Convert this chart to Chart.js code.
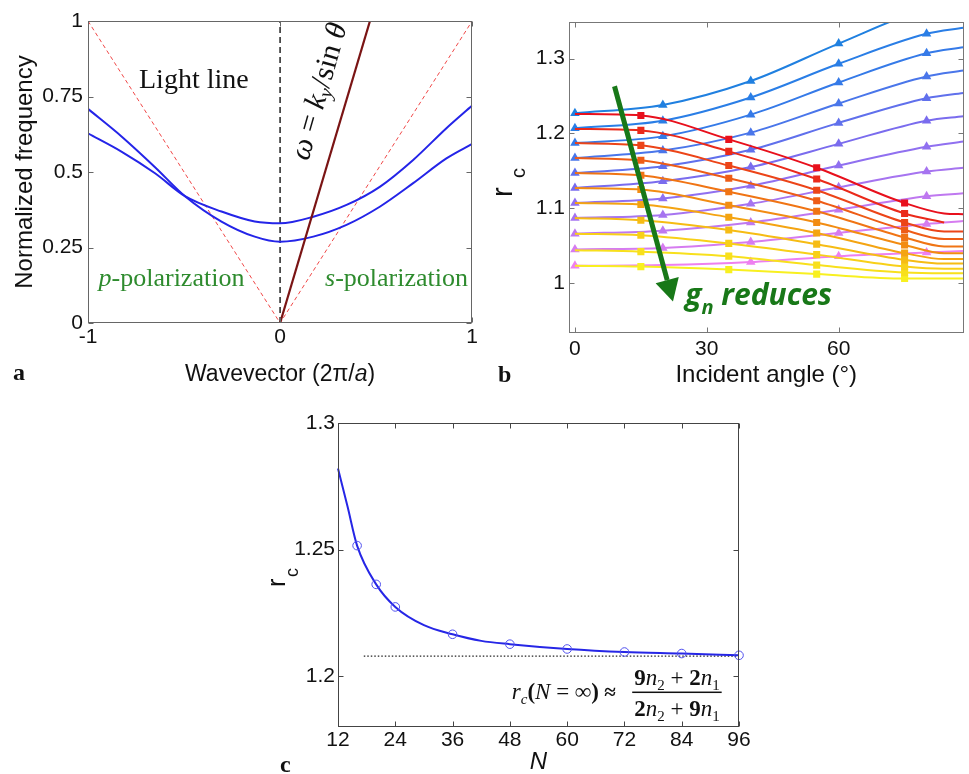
<!DOCTYPE html>
<html>
<head>
<meta charset="utf-8">
<script src="https://cdn.jsdelivr.net/npm/chart.js@4.4.1/dist/chart.umd.min.js"></script>
<style>
  body { margin: 0; background: #fff; }
  #page { position: relative; width: 969px; height: 774px; overflow: hidden; background: #fff; }
  canvas { position: absolute; }
</style>
</head>
<body>
<div id="page">
  <canvas id="chart-a" width="480" height="400" style="left:0;top:0"></canvas>
  <canvas id="chart-b" width="489" height="400" style="left:480px;top:0"></canvas>
  <canvas id="chart-c" width="520" height="374" style="left:240px;top:400px"></canvas>
</div>
<script>
const sans = "'Liberation Sans', Arial, sans-serif";
const serif = "'Liberation Serif', 'Times New Roman', serif";

// panel a - band diagram
const waveK = [-1, -0.824, -0.651, -0.495, -0.305, -0.132, 0, 0.173, 0.346, 0.519, 0.693, 0.866, 1];
const bandUpper = [0.628, 0.567, 0.496, 0.42, 0.369, 0.336, 0.33, 0.352, 0.391, 0.451, 0.54, 0.645, 0.72];
const bandLower = [0.709, 0.617, 0.516, 0.42, 0.336, 0.286, 0.269, 0.286, 0.325, 0.385, 0.463, 0.545, 0.593];
const lightK = [-1, 0, 1];
const lightW = [1, 0, 1];
const incidentK = [0, 0.468];
const incidentW = [0, 1];
const gammaK = [0, 0];
const gammaW = [0, 1];
const aXTicks = [-1, 0, 1];
const aXLabels = ['-1', '0', '1'];
const aYTicks = [0, 0.25, 0.5, 0.75, 1];
const aYLabels = ['0', '0.25', '0.5', '0.75', '1'];

// panel b - r_c against incident angle
const triAngles = [0, 20, 40, 60, 80, 88.4];
const triRc = [
  [1.227, 1.238, 1.270, 1.320, 1.366, 1.372],
  [1.207, 1.217, 1.248, 1.293, 1.333, 1.341],
  [1.187, 1.196, 1.225, 1.268, 1.307, 1.315],
  [1.167, 1.177, 1.201, 1.240, 1.276, 1.284],
  [1.147, 1.156, 1.178, 1.214, 1.247, 1.254],
  [1.127, 1.136, 1.155, 1.186, 1.217, 1.223],
  [1.107, 1.113, 1.130, 1.157, 1.182, 1.189],
  [1.087, 1.091, 1.106, 1.128, 1.149, 1.154],
  [1.066, 1.070, 1.081, 1.098, 1.116, 1.120],
  [1.045, 1.047, 1.055, 1.067, 1.079, 1.083],
  [1.023, 1.024, 1.028, 1.036, 1.041, 1.043]
];
const sqAngles = [0, 15, 35, 55, 75, 84, 88.4];
const sqRc = [
  [1.226, 1.224, 1.192, 1.154, 1.107, 1.093, 1.092],
  [1.206, 1.204, 1.176, 1.139, 1.093, 1.081, null],
  [1.187, 1.184, 1.157, 1.124, 1.081, 1.069, 1.069],
  [1.167, 1.164, 1.140, 1.110, 1.071, 1.059, 1.059],
  [1.147, 1.144, 1.122, 1.096, 1.061, 1.049, 1.049],
  [1.127, 1.125, 1.104, 1.081, 1.051, 1.040, 1.040],
  [1.107, 1.105, 1.088, 1.067, 1.040, 1.032, 1.032],
  [1.087, 1.084, 1.071, 1.052, 1.031, 1.026, 1.026],
  [1.066, 1.064, 1.053, 1.038, 1.022, 1.019, 1.019],
  [1.044, 1.042, 1.036, 1.024, 1.014, 1.013, 1.013],
  [1.023, 1.022, 1.018, 1.012, 1.006, 1.006, 1.006]
];
const bXTicks = [0, 30, 60];
const bXLabels = ['0', '30', '60'];
const bYTicks = [1, 1.1, 1.2, 1.3];
const bYLabels = ['1', '1.1', '1.2', '1.3'];

// panel c - r_c against N
const cellN = [12, 14, 16, 20, 24, 30, 36, 42, 48, 60, 72, 84, 96];
const rcN = [1.282, 1.267, 1.2516, 1.2363, 1.2274, 1.2202, 1.2166, 1.214, 1.2127, 1.2108, 1.2096, 1.209, 1.2083];
const markedN = [16, 20, 24, 36, 48, 60, 72, 84, 96];
const limitN = [17.4, 96];
const limitRc = [1.208, 1.208];
const cXTicks = [12, 24, 36, 48, 60, 72, 84, 96];
const cXLabels = ['12', '24', '36', '48', '60', '72', '84', '96'];
const cYTicks = [1.2, 1.25, 1.3];
const cYLabels = ['1.2', '1.25', '1.3'];

const triColors = ['#2080e0', '#2a7ee6', '#357ae8', '#4a76ea', '#6070ec', '#7a6cee', '#9070f0', '#a674f0', '#bf78f0', '#d67cf0', '#ee80f0'];
const sqColors = ['#e8101c', '#ea2a1a', '#ec4418', '#ee5c16', '#f07414', '#f28c12', '#f4a412', '#f6bc14', '#f8d018', '#f8e01c', '#f8f020'];

const xy = (xs, ys) => xs.map((x, i) => ({ x: x, y: ys[i] }));

function axis(min, max, ticks, labels, size, pad, extra) {
  return Object.assign({
    type: 'linear', min: min, max: max,
    grid: { display: false, drawTicks: false },
    border: { display: false },
    afterBuildTicks: s => { s.ticks = ticks.map(v => ({ value: v })); },
    afterFit: s => { if (s.isHorizontal()) s.height = size; else s.width = size; },
    ticks: { autoSkip: false, maxRotation: 0, padding: pad, color: '#111',
      font: { family: sans, size: 21 }, callback: (v, i) => labels[i] }
  }, extra || {});
}

// box with inward ticks, matlab style
function frame(color) {
  return {
    id: 'frame',
    afterDatasetsDraw(chart) {
      const { ctx, chartArea: a, scales: { x, y } } = chart;
      const l = Math.round(a.left) + 0.5, r = Math.round(a.right) - 0.5;
      const t = Math.round(a.top) + 0.5, b = Math.round(a.bottom) - 0.5;
      ctx.save();
      ctx.strokeStyle = color;
      ctx.lineWidth = 1;
      ctx.strokeRect(l, t, r - l, b - t);
      ctx.beginPath();
      x.ticks.forEach(tk => {
        const p = Math.round(x.getPixelForValue(tk.value)) + 0.5;
        ctx.moveTo(p, b); ctx.lineTo(p, b - 5);
        ctx.moveTo(p, t); ctx.lineTo(p, t + 5);
      });
      y.ticks.forEach(tk => {
        const p = Math.round(y.getPixelForValue(tk.value)) + 0.5;
        ctx.moveTo(l, p); ctx.lineTo(l + 5, p);
        ctx.moveTo(r, p); ctx.lineTo(r - 5, p);
      });
      ctx.stroke();
      ctx.restore();
    }
  };
}

function drawPieces(ctx, pieces, x, y, align) {
  let w = 0;
  pieces.forEach(p => { ctx.font = p[1]; w += ctx.measureText(p[0]).width; });
  let cx = align === 'center' ? x - w / 2 : x;
  pieces.forEach(p => {
    ctx.font = p[1];
    ctx.fillText(p[0], cx, y + (p[2] || 0));
    cx += ctx.measureText(p[0]).width;
  });
  return w;
}

function rcTitle(ctx, x, y, big, small, dx, dy) {
  ctx.save();
  ctx.translate(x, y);
  ctx.rotate(-Math.PI / 2);
  ctx.fillStyle = '#111';
  ctx.textBaseline = 'alphabetic';
  ctx.font = big + 'px ' + sans;
  ctx.fillText('r', 0, 0);
  ctx.font = small + 'px ' + sans;
  ctx.fillText('c', dx, dy);
  ctx.restore();
}

const baseOptions = {
  responsive: false,
  animation: false,
  devicePixelRatio: 1,
  plugins: { legend: { display: false }, tooltip: { enabled: false } }
};

// ---------- panel a
const panelAText = {
  id: 'panelAText',
  afterDatasetsDraw(chart) {
    const { ctx, scales: { x, y }, chartArea: a } = chart;
    ctx.save();
    ctx.textBaseline = 'alphabetic';
    ctx.fillStyle = '#111';
    drawPieces(ctx, [['Light line', '28px ' + serif]], x.getPixelForValue(-0.449), y.getPixelForValue(0.777), 'center');
    ctx.fillStyle = '#2e8b2e';
    drawPieces(ctx, [['p', 'italic 26px ' + serif], ['-polarization', '26px ' + serif]], x.getPixelForValue(-0.945), y.getPixelForValue(0.124), 'left');
    drawPieces(ctx, [['s', 'italic 26px ' + serif], ['-polarization', '26px ' + serif]], x.getPixelForValue(0.234), y.getPixelForValue(0.124), 'left');

    ctx.fillStyle = '#111';
    ctx.textBaseline = 'middle';
    drawPieces(ctx, [['Wavevector (2π/', '23px ' + sans], ['a', 'italic 23px ' + sans], [')', '23px ' + sans]],
      (a.left + a.right) / 2, a.bottom + 52, 'center');
    ctx.textBaseline = 'alphabetic';
    ctx.font = 'bold 24px ' + serif;
    ctx.fillText('a', 13, 380);

    ctx.translate(x.getPixelForValue(0.208), y.getPixelForValue(0.766));
    ctx.rotate(-74 * Math.PI / 180);
    ctx.textBaseline = 'middle';
    drawPieces(ctx, [
      ['ω', 'italic 30px ' + serif], [' = ', '30px ' + serif], ['k', 'italic 30px ' + serif],
      ['y', 'italic 20px ' + serif, 7], ['/', '30px ' + serif], ['sin ', '30px ' + serif], ['θ', 'italic 30px ' + serif]
    ], 0, 0, 'center');
    ctx.restore();
  }
};

new Chart(document.getElementById('chart-a'), {
  type: 'scatter',
  data: {
    datasets: [
      { data: xy(incidentK, incidentW), showLine: true, borderColor: '#7a1414', borderWidth: 2.2, pointRadius: 0 },
      { data: xy(waveK, bandUpper), showLine: true, borderColor: '#2424e8', borderWidth: 2, pointRadius: 0, cubicInterpolationMode: 'monotone' },
      { data: xy(waveK, bandLower), showLine: true, borderColor: '#2424e8', borderWidth: 2, pointRadius: 0, cubicInterpolationMode: 'monotone' },
      { data: xy(lightK, lightW), showLine: true, borderColor: '#f04848', borderWidth: 1, borderDash: [4, 3], pointRadius: 0 },
      { data: xy(gammaK, gammaW), showLine: true, borderColor: '#222', borderWidth: 1.5, borderDash: [6, 4], pointRadius: 0 }
    ]
  },
  options: Object.assign({}, baseOptions, {
    layout: { padding: { top: 21, right: 7, left: 0, bottom: 0 } },
    scales: {
      x: axis(-1, 1, aXTicks, aXLabels, 77, 2),
      y: axis(0, 1, aYTicks, aYLabels, 88, 5, {
        title: { display: true, text: 'Normalized frequency', color: '#111',
          font: { family: sans, size: 24, lineHeight: 1 }, padding: { top: 13, bottom: 0 } }
      })
    }
  }),
  plugins: [frame('#666'), panelAText]
});

// ---------- panel b
const panelBText = {
  id: 'panelBText',
  afterDatasetsDraw(chart) {
    const { ctx, scales: { x, y } } = chart;
    rcTitle(ctx, 32, 197, 29, 20, 19, 13);
    ctx.save();
    ctx.fillStyle = '#111';
    ctx.font = 'bold 24px ' + serif;
    ctx.fillText('b', 18, 382);

    // arrow
    const x0 = x.getPixelForValue(9.0), y0 = y.getPixelForValue(1.263);
    const x1 = x.getPixelForValue(22.3), y1 = y.getPixelForValue(0.9755);
    const ang = Math.atan2(y1 - y0, x1 - x0);
    const head = 22, half = 12;
    const bx = x1 - head * Math.cos(ang), by = y1 - head * Math.sin(ang);
    ctx.strokeStyle = '#187818';
    ctx.fillStyle = '#187818';
    ctx.lineWidth = 5;
    ctx.beginPath();
    ctx.moveTo(x0, y0);
    ctx.lineTo(bx, by);
    ctx.stroke();
    ctx.beginPath();
    ctx.moveTo(x1, y1);
    ctx.lineTo(bx + half * Math.sin(ang), by - half * Math.cos(ang));
    ctx.lineTo(bx - half * Math.sin(ang), by + half * Math.cos(ang));
    ctx.closePath();
    ctx.fill();

    ctx.textBaseline = 'alphabetic';
    drawPieces(ctx, [
      ['g', "italic bold 30px 'Open Sans', sans-serif"],
      ['n', "italic bold 20px 'Open Sans', sans-serif", 9],
      [' reduces', "italic bold 30px 'Open Sans', sans-serif"]
    ], x.getPixelForValue(25.1), y.getPixelForValue(0.971), 'left');
    ctx.restore();
  }
};

const bDatasets = [];
sqRc.forEach((vals, i) => {
  bDatasets.push({
    data: xy(sqAngles, vals), showLine: true, borderColor: sqColors[i], backgroundColor: sqColors[i],
    borderWidth: 2, pointStyle: 'rect', pointRadius: [0, 5, 5, 5, 5, 0, 0], pointBorderWidth: 0,
    cubicInterpolationMode: 'monotone'
  });
});
triRc.forEach((vals, i) => {
  bDatasets.push({
    data: xy(triAngles, vals), showLine: true, borderColor: triColors[i], backgroundColor: triColors[i],
    borderWidth: 2, pointStyle: 'triangle', pointRadius: [5.5, 5.5, 5.5, 5.5, 5.5, 0], pointBorderWidth: 0,
    cubicInterpolationMode: 'monotone'
  });
});

new Chart(document.getElementById('chart-b'), {
  type: 'scatter',
  data: { datasets: bDatasets },
  options: Object.assign({}, baseOptions, {
    layout: { padding: { top: 22, right: 1, left: 0, bottom: 0 } },
    scales: {
      x: axis(-1.35, 88.4, bXTicks, bXLabels, 67, 4, {
        title: { display: true, text: 'Incident angle (°)', color: '#111',
          font: { family: sans, size: 24, lineHeight: 1 }, padding: { top: 0, bottom: 13 } }
      }),
      y: axis(0.9333, 1.3488, bYTicks, bYLabels, 89, 4)
    }
  }),
  plugins: [frame('#777'), panelBText]
});

// ---------- panel c
const panelCText = {
  id: 'panelCText',
  afterDatasetsDraw(chart) {
    const { ctx, scales: { x, y } } = chart;
    rcTitle(ctx, 45, 187, 25, 18, 10, 13);
    ctx.save();
    ctx.fillStyle = '#111';
    ctx.textBaseline = 'alphabetic';
    ctx.font = 'bold 24px ' + serif;
    ctx.fillText('c', 40, 372);

    const barY = y.getPixelForValue(1.1937);
    drawPieces(ctx, [
      ['r', 'italic 23px ' + serif], ['c', 'italic 15px ' + serif, 5], ['(', 'bold 23px ' + serif],
      ['N', 'italic 23px ' + serif], [' = ', '23px ' + serif], ['∞', 'bold 23px ' + serif],
      [')', 'bold 23px ' + serif], [' ≈ ', 'bold 21px ' + serif]
    ], x.getPixelForValue(48.4), barY + 7, 'left');
    const cx = x.getPixelForValue(83.0);
    const num = [['9', 'bold 23px ' + serif], ['n', 'italic 23px ' + serif], ['2', '15px ' + serif, 5],
      [' + ', '23px ' + serif], ['2', 'bold 23px ' + serif], ['n', 'italic 23px ' + serif], ['1', '15px ' + serif, 5]];
    const den = [['2', 'bold 23px ' + serif], ['n', 'italic 23px ' + serif], ['2', '15px ' + serif, 5],
      [' + ', '23px ' + serif], ['9', 'bold 23px ' + serif], ['n', 'italic 23px ' + serif], ['1', '15px ' + serif, 5]];
    const w = drawPieces(ctx, num, cx, barY - 7, 'center');
    drawPieces(ctx, den, cx, barY + 24, 'center');
    ctx.fillRect(cx - w / 2 - 2, barY - 0.75, w + 4, 1.5);
    ctx.restore();
  }
};

new Chart(document.getElementById('chart-c'), {
  type: 'scatter',
  data: {
    datasets: [
      { data: xy(cellN, rcN), showLine: true, borderColor: '#2626e6', borderWidth: 2,
        pointStyle: 'circle', pointBorderColor: '#5050ee', pointBackgroundColor: 'rgba(0,0,0,0)', pointBorderWidth: 1,
        pointRadius: ctx => markedN.includes(ctx.raw.x) ? 4.3 : 0,
        cubicInterpolationMode: 'monotone', clip: false },
      { data: xy(limitN, limitRc), showLine: true, borderColor: '#222', borderWidth: 1.2,
        borderDash: [1.5, 2], pointRadius: 0 }
    ]
  },
  options: Object.assign({}, baseOptions, {
    layout: { padding: { top: 23, right: 21, left: 0, bottom: 0 } },
    scales: {
      x: axis(12, 96, cXTicks, cXLabels, 47, 1, {
        title: { display: true, text: 'N', color: '#111',
          font: { family: sans, size: 24, style: 'italic', lineHeight: 1 }, padding: { top: 0, bottom: 0 } }
      }),
      y: axis(1.18, 1.3, cYTicks, cYLabels, 98, 3)
    }
  }),
  plugins: [frame('#444'), panelCText]
});
</script>
</body>
</html>
